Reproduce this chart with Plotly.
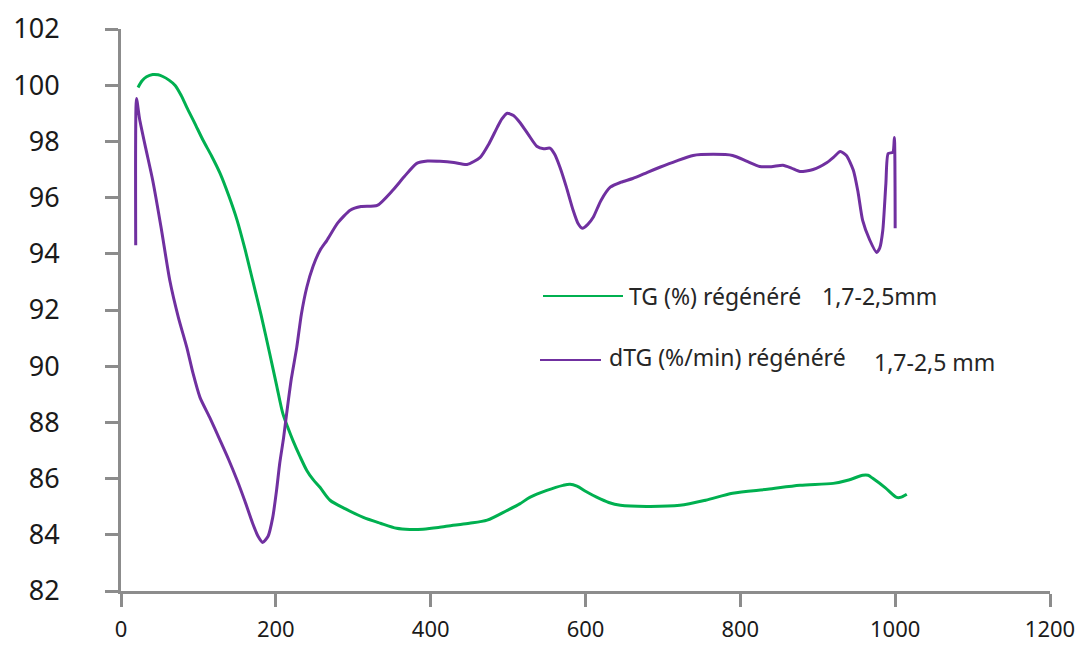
import plotly.graph_objects as go

# Thermogravimetric curves, regenerated sample 1,7-2,5 mm
tg_temp = [22, 27, 33, 41, 48, 54, 62, 70, 78, 85, 95, 106, 117, 128, 139, 150, 160, 170,
           181, 192, 201, 209, 216, 222, 231, 240, 248, 257, 270, 290, 313, 335, 356, 373,
           390, 410, 429, 450, 473, 499, 515, 528, 550, 571, 580, 589, 600, 615, 630, 645,
           679, 722, 755, 790, 835, 877, 920, 940, 958, 965, 971, 987, 1002, 1008, 1015]
tg_mass = [99.92, 100.15, 100.30, 100.38, 100.37, 100.31, 100.18, 99.99, 99.62, 99.21,
           98.66, 98.04, 97.48, 96.86, 96.08, 95.19, 94.18, 93.06, 91.82, 90.46, 89.32,
           88.32, 87.78, 87.36, 86.80, 86.29, 85.97, 85.69, 85.23, 84.92, 84.62, 84.41,
           84.23, 84.19, 84.20, 84.26, 84.34, 84.41, 84.52, 84.87, 85.10, 85.33, 85.58,
           85.76, 85.80, 85.73, 85.55, 85.33, 85.15, 85.05, 85.01, 85.05, 85.23, 85.48,
           85.62, 85.76, 85.83, 85.95, 86.12, 86.12, 86.01, 85.68, 85.33, 85.34, 85.44]

dtg_temp = [19, 20, 24, 32, 41, 52, 63, 74, 85, 93, 102, 115, 128, 139, 150, 160, 170, 177,
            183, 190, 196, 201, 205, 210, 214, 220, 227, 233, 240, 248, 257, 266, 280, 296,
            310, 331, 351, 366, 382, 396, 412, 430, 447, 464, 475, 486, 492, 499, 507, 515,
            526, 537, 546, 554, 560, 567, 575, 584, 590, 596, 603, 610, 620, 632, 646, 661,
            680, 696, 717, 739, 765, 790, 808, 825, 840, 855, 866, 877, 894, 912, 921, 929,
            937, 946, 952, 958, 967, 976, 980, 984, 988, 991, 997, 999, 1000]
dtg_rate = [94.30, 99.53, 98.80, 97.75, 96.61, 94.90, 93.06, 91.75, 90.67, 89.75, 88.89,
            88.15, 87.36, 86.68, 85.94, 85.20, 84.41, 83.95, 83.73, 83.95, 84.62, 85.60,
            86.54, 87.45, 88.32, 89.55, 90.67, 91.85, 92.81, 93.55, 94.12, 94.48, 95.10,
            95.55, 95.68, 95.72, 96.26, 96.75, 97.22, 97.30, 97.29, 97.25, 97.18, 97.43,
            97.90, 98.50, 98.80, 99.00, 98.92, 98.68, 98.25, 97.83, 97.74, 97.76, 97.55,
            97.08, 96.40, 95.55, 95.10, 94.91, 95.05, 95.30, 95.90, 96.37, 96.55, 96.68,
            96.90, 97.08, 97.30, 97.50, 97.54, 97.50, 97.30, 97.11, 97.10, 97.15, 97.05,
            96.93, 97.00, 97.25, 97.45, 97.64, 97.50, 96.97, 96.20, 95.19, 94.50, 94.05,
            94.20, 94.83, 96.50, 97.57, 97.61, 98.14, 94.91]

x_ticks = [0, 200, 400, 600, 800, 1000, 1200]
y_ticks = [82, 84, 86, 88, 90, 92, 94, 96, 98, 100, 102]

GREEN = "#00B050"
PURPLE = "#7030A0"
AXIS = "#8c8c8c"

W, H = 1075, 648
L, R, T, B = 121, 25, 29, 57


def px(x):
    return (x - L) / (W - L - R)


def py(y):
    return (H - B - y) / (H - T - B)


fig = go.Figure()
fig.add_trace(go.Scatter(x=tg_temp, y=tg_mass, mode="lines",
                         line=dict(color=GREEN, width=3, shape="spline", smoothing=0.8),
                         name="TG (%) régénéré 1,7-2,5mm", showlegend=False))
fig.add_trace(go.Scatter(x=dtg_temp, y=dtg_rate, mode="lines",
                         line=dict(color=PURPLE, width=3, shape="spline", smoothing=0.6),
                         name="dTG (%/min) régénéré 1,7-2,5 mm", showlegend=False))

axis_common = dict(showgrid=False, zeroline=False, showline=True, linecolor=AXIS,
                   linewidth=3, ticks="outside", ticklen=13, tickwidth=3, tickcolor=AXIS,
                   automargin=False, ticklabeloverflow="allow")

fig.update_xaxes(range=[0, 1200], tickvals=x_ticks, ticklabelstandoff=4,
                 tickfont=dict(family="Noto Sans", size=22, color="#1a1a1a"),
                 **axis_common)
fig.update_yaxes(range=[82, 102], tickvals=y_ticks, ticklabelstandoff=40,
                 tickfont=dict(family="Noto Sans", size=27, color="#1a1a1a"),
                 **axis_common)

# Hand-placed key
key_font = dict(family="Noto Sans", size=23, color="#262626")
shapes = [
    dict(type="line", xref="paper", yref="paper", x0=px(543), x1=px(623), y0=py(296), y1=py(296),
         line=dict(color=GREEN, width=2)),
    dict(type="line", xref="paper", yref="paper", x0=px(540), x1=px(601), y0=py(360), y1=py(360),
         line=dict(color=PURPLE, width=2)),
]
labels = [
    ("TG (%) régénéré", 627, 296),
    ("1,7-2,5mm", 820, 296),
    ("dTG (%/min) régénéré", 607, 357),
    ("1,7-2,5 mm", 872, 362),
]
annotations = [dict(text=t, xref="paper", yref="paper", x=px(x), y=py(y), xanchor="left",
                    yanchor="middle", showarrow=False, font=key_font) for t, x, y in labels]

fig.update_layout(width=W, height=H, margin=dict(l=L, r=R, t=T, b=B),
                  plot_bgcolor="white", paper_bgcolor="white",
                  shapes=shapes, annotations=annotations)

fig.write_html("out.html")
